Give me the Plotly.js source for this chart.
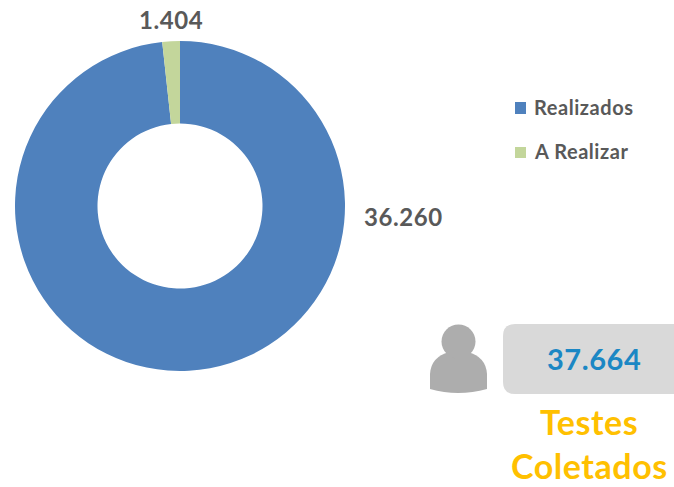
<!DOCTYPE html>
<html>
<head>
<meta charset="utf-8">
<script src="https://cdn.plot.ly/plotly-3.0.1.min.js"></script>
<style>html,body{margin:0;padding:0;background:#fff}#c{width:674px;height:487px}
.annotation-text{letter-spacing:0.55px}</style>
</head>
<body>
<div id="c"></div>
<script>
const categories = ["Realizados", "A Realizar"];
// Printed figures, as labelled in the reference.
const labelValues = [36260, 1404];
// Slice sizes as drawn in the reference, in percent of the ring. The green wedge
// measures about 6.2 degrees, narrower than its label (3.7%) would give.
const drawnShares = [98.28, 1.72];
const sliceColors = ["#4F81BD", "#C3D69B"];
const W = 674, H = 487;
const fmt = v => String(v).replace(/\B(?=(\d{3})+$)/g, ".");
const total = labelValues.reduce((a, b) => a + b, 0);
const px = x => x / W, py = y => 1 - y / H;
const font = "Lato, 'Open Sans', sans-serif";

function ann(text, x, y, size, color, extra) {
  return Object.assign({
    text: "<b>" + text + "</b>", x: px(x), y: py(y), xref: "paper", yref: "paper",
    showarrow: false, xanchor: "center", yanchor: "middle",
    font: {family: font, size: size, color: color}
  }, extra || {});
}
function pth(d, color) {
  return {type: "path", xref: "paper", yref: "paper", path: d, fillcolor: color, line: {width: 0}, layer: "below"};
}
const X = px, Y = py;
function P(cmds) {
  return cmds.map(c => c[0] + " " + c.slice(1).map((v, i) => (i % 2 ? Y(v) : X(v)).toFixed(5)).join(" ")).join(" ");
}

const shapes = [
  {type: "rect", xref: "paper", yref: "paper", x0: X(515), x1: X(526), y0: Y(102), y1: Y(114), fillcolor: sliceColors[0], line: {width: 0}},
  {type: "rect", xref: "paper", yref: "paper", x0: X(515), x1: X(526), y0: Y(147), y1: Y(158), fillcolor: sliceColors[1], line: {width: 0}},
  pth(P([["M",515,324],["L",674,324],["L",674,394],["L",515,394],["Q",503,394,503,382],["L",503,336],["Q",503,324,515,324],["Z"]]), "#D9D9D9"),
  {type: "circle", xref: "paper", yref: "paper", x0: X(441.5), x1: X(475.5), y0: Y(324.5), y1: Y(358.5), fillcolor: "#ADADAD", line: {width: 0}},
  pth(P([["M",430,389],["L",430,374],["Q",431,357,449,352],["L",468,352],["Q",486,357,487,374],["L",487,389],["Q",458,397,430,389],["Z"]]), "#ADADAD")
];

const annotations = [
  ann(fmt(labelValues[1]), 171, 20, 24, "#595959"),
  ann(fmt(labelValues[0]), 403, 216, 24, "#595959"),
  ann(categories[0], 532, 107, 20, "#595959", {xanchor: "left"}),
  ann(categories[1], 532, 151, 20, "#595959", {xanchor: "left"}),
  ann(fmt(total), 594, 358, 29, "#1B87C4"),
  ann("Testes", 589, 421, 34, "#FFC000"),
  ann("Coletados", 589, 465.5, 34, "#FFC000")
];

Plotly.newPlot("c", [{
  type: "pie",
  labels: categories,
  values: drawnShares,
  hole: 0.5,
  sort: false,
  direction: "clockwise",
  rotation: 0,
  textinfo: "none",
  marker: {colors: sliceColors, line: {width: 0}},
  domain: {x: [px(15), px(345)], y: [py(371), py(41)]}
}], {
  width: W, height: H,
  margin: {l: 0, r: 0, t: 0, b: 0},
  paper_bgcolor: "#fff",
  showlegend: false,
  shapes: shapes,
  annotations: annotations
}, {displayModeBar: false, responsive: false});
</script>
</body>
</html>
